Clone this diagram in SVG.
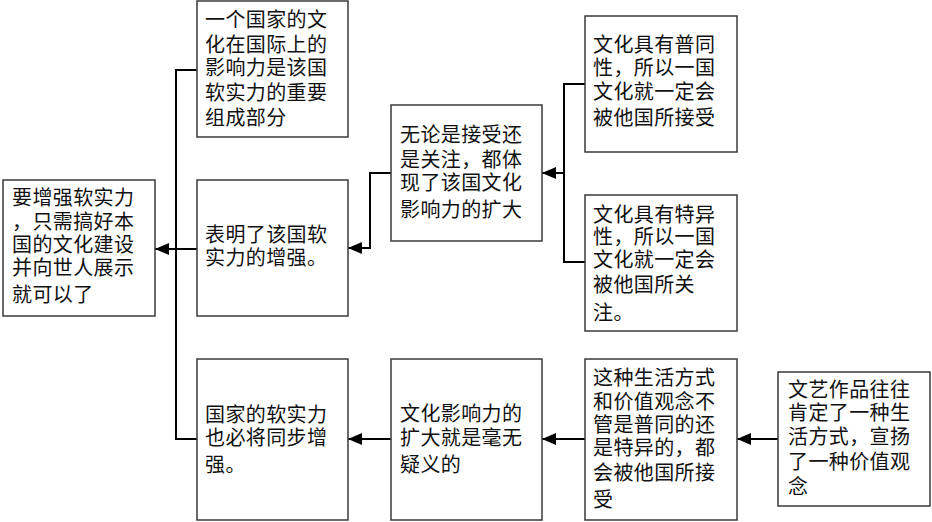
<svg xmlns="http://www.w3.org/2000/svg" width="932" height="522" viewBox="0 0 932 522">
<style>
.box{fill:#fff;stroke:#3a3a3a;stroke-width:1.5}
.t{font-family:"Liberation Serif","Noto Sans CJK SC",serif;font-size:20px;fill:#111;letter-spacing:0.4px}
.c{fill:none;stroke:#000;stroke-width:2}
</style>
<defs>
<marker id="ah" viewBox="0 0 14 12" refX="14" refY="6" markerWidth="14" markerHeight="12" markerUnits="userSpaceOnUse" orient="auto">
<path d="M0,0 L14,6 L0,12 z" fill="#000"/>
</marker>
</defs>
<rect width="932" height="522" fill="#fff"/>
<g id="connectors">
<path class="c" d="M197,70 H176 V439 H197"/>
<path class="c" d="M197,249 H155" marker-end="url(#ah)"/>
<path class="c" d="M391,173 H370 V248 H348" marker-end="url(#ah)"/>
<path class="c" d="M585,84 H564 V262 H585"/>
<path class="c" d="M564,173 H542" marker-end="url(#ah)"/>
<path class="c" d="M391,439 H348" marker-end="url(#ah)"/>
<path class="c" d="M585,439 H542" marker-end="url(#ah)"/>
<path class="c" d="M778,439 H737" marker-end="url(#ah)"/>
</g>
<g id="nodeA">
<rect class="box" x="3" y="180" width="152" height="136"/>
<text class="t" x="12" y="205">要增强软实力</text>
<text class="t" x="12" y="229">，只需搞好本</text>
<text class="t" x="12" y="252">国的文化建设</text>
<text class="t" x="12" y="275">并向世人展示</text>
<text class="t" x="12" y="302">就可以了</text>
</g>
<g id="nodeB">
<rect class="box" x="197" y="1" width="151" height="136"/>
<text class="t" x="205" y="27">一个国家的文</text>
<text class="t" x="205" y="52">化在国际上的</text>
<text class="t" x="205" y="75">影响力是该国</text>
<text class="t" x="205" y="100">软实力的重要</text>
<text class="t" x="205" y="125">组成部分</text>
</g>
<g id="nodeC">
<rect class="box" x="197" y="180" width="151" height="136"/>
<text class="t" x="205" y="242">表明了该国软</text>
<text class="t" x="205" y="265">实力的增强。</text>
</g>
<g id="nodeD">
<rect class="box" x="197" y="359" width="151" height="161"/>
<text class="t" x="205" y="422">国家的软实力</text>
<text class="t" x="205" y="445">也必将同步增</text>
<text class="t" x="205" y="472">强。</text>
</g>
<g id="nodeE">
<rect class="box" x="391" y="359" width="151" height="161"/>
<text class="t" x="400" y="421">文化影响力的</text>
<text class="t" x="400" y="445">扩大就是毫无</text>
<text class="t" x="400" y="472">疑义的</text>
</g>
<g id="nodeF">
<rect class="box" x="391" y="105" width="151" height="136"/>
<text class="t" x="400" y="142">无论是接受还</text>
<text class="t" x="400" y="167">是关注，都体</text>
<text class="t" x="400" y="190">现了该国文化</text>
<text class="t" x="400" y="217">影响力的扩大</text>
</g>
<g id="nodeG">
<rect class="box" x="585" y="16" width="152" height="136"/>
<text class="t" x="593" y="52">文化具有普同</text>
<text class="t" x="593" y="75">性，所以一国</text>
<text class="t" x="593" y="99">文化就一定会</text>
<text class="t" x="593" y="125">被他国所接受</text>
</g>
<g id="nodeH">
<rect class="box" x="585" y="195" width="152" height="136"/>
<text class="t" x="593" y="222">文化具有特异</text>
<text class="t" x="593" y="244">性，所以一国</text>
<text class="t" x="593" y="267">文化就一定会</text>
<text class="t" x="593" y="292">被他国所关</text>
<text class="t" x="593" y="320">注。</text>
</g>
<g id="nodeI">
<rect class="box" x="585" y="359" width="152" height="161"/>
<text class="t" x="593" y="385">这种生活方式</text>
<text class="t" x="593" y="409">和价值观念不</text>
<text class="t" x="593" y="432">管是普同的还</text>
<text class="t" x="593" y="455">是特异的，都</text>
<text class="t" x="593" y="480">会被他国所接</text>
<text class="t" x="593" y="507">受</text>
</g>
<g id="nodeJ">
<rect class="box" x="778" y="372" width="152" height="134"/>
<text class="t" x="788" y="397">文艺作品往往</text>
<text class="t" x="788" y="420">肯定了一种生</text>
<text class="t" x="788" y="444">活方式，宣扬</text>
<text class="t" x="788" y="469">了一种价值观</text>
<text class="t" x="788" y="494">念</text>
</g>
</svg>
